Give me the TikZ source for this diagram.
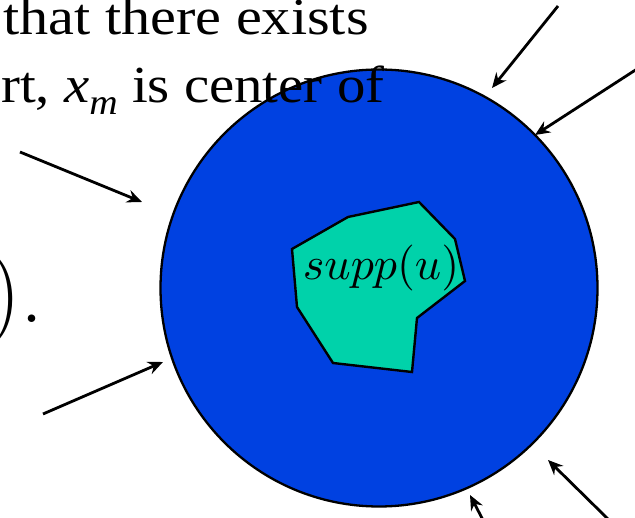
\documentclass[tikz,border=0pt]{standalone}
\usepackage{fontspec}
\setmainfont{Liberation Serif}
\newfontfamily\lmfont{Latin Modern Roman}
\usetikzlibrary{arrows.meta}
\definecolor{ballblue}{RGB}{0,65,225}
\definecolor{suppgreen}{RGB}{0,210,170}
\tikzset{
  ptr/.style={line width=2.8pt,-{Stealth[length=15pt,width=13pt,inset=5pt]}},
  slidetext/.style={inner sep=0pt,anchor=base west,xscale=1.12,font=\fontsize{52}{58}\selectfont}
}
\begin{document}
\begin{tikzpicture}[x=1pt,y=-1pt]
\useasboundingbox (0,0) rectangle (635,518);
% big parenthesis and period at left
\node[inner sep=0pt,anchor=base east,font=\lmfont\fontsize{92}{92}\selectfont] (paren) at (44,323) {).};
% ball
\node[circle,draw=black,line width=2.3pt,fill=ballblue,minimum size=437pt,inner sep=0pt] (ball) at (379,288) {};
% support polygon
\draw[fill=suppgreen,line width=2.4pt,line join=miter]
  (292,249) -- (348,217) -- (419,202) -- (455,239) -- (465,281) -- (417,318) -- (412,372) -- (333,363) -- (297,307) -- cycle;
\node[inner sep=0pt,anchor=base west,scale=4.6] (supp) at (302,280) {$supp(u)$};
% text lines
\node[slidetext] (line1) at (3,35) {that there exists};
\node[slidetext,xscale=0.975] (line2) at (1,103) {rt, \textit{x}\raisebox{-0.22em}{\fontsize{36}{36}\selectfont\itshape m} is center of};
% arrows
\coordinate (s1) at (20,152);  \coordinate (t1) at (142,202);
\coordinate (s2) at (43,414);  \coordinate (t2) at (163,362);
\coordinate (s3) at (558,6);   \coordinate (t3) at (492,88);
\coordinate (s4) at (637,69);  \coordinate (t4) at (535,135);
\coordinate (s5) at (610,521); \coordinate (t5) at (548,460);
\coordinate (s6) at (484,522); \coordinate (t6) at (470,495);
\draw[ptr] (s1) -- (t1);
\draw[ptr] (s2) -- (t2);
\draw[ptr] (s3) -- (t3);
\draw[ptr] (s4) -- (t4);
\draw[ptr] (s5) -- (t5);
\draw[ptr] (s6) -- (t6);
\end{tikzpicture}
\end{document}
